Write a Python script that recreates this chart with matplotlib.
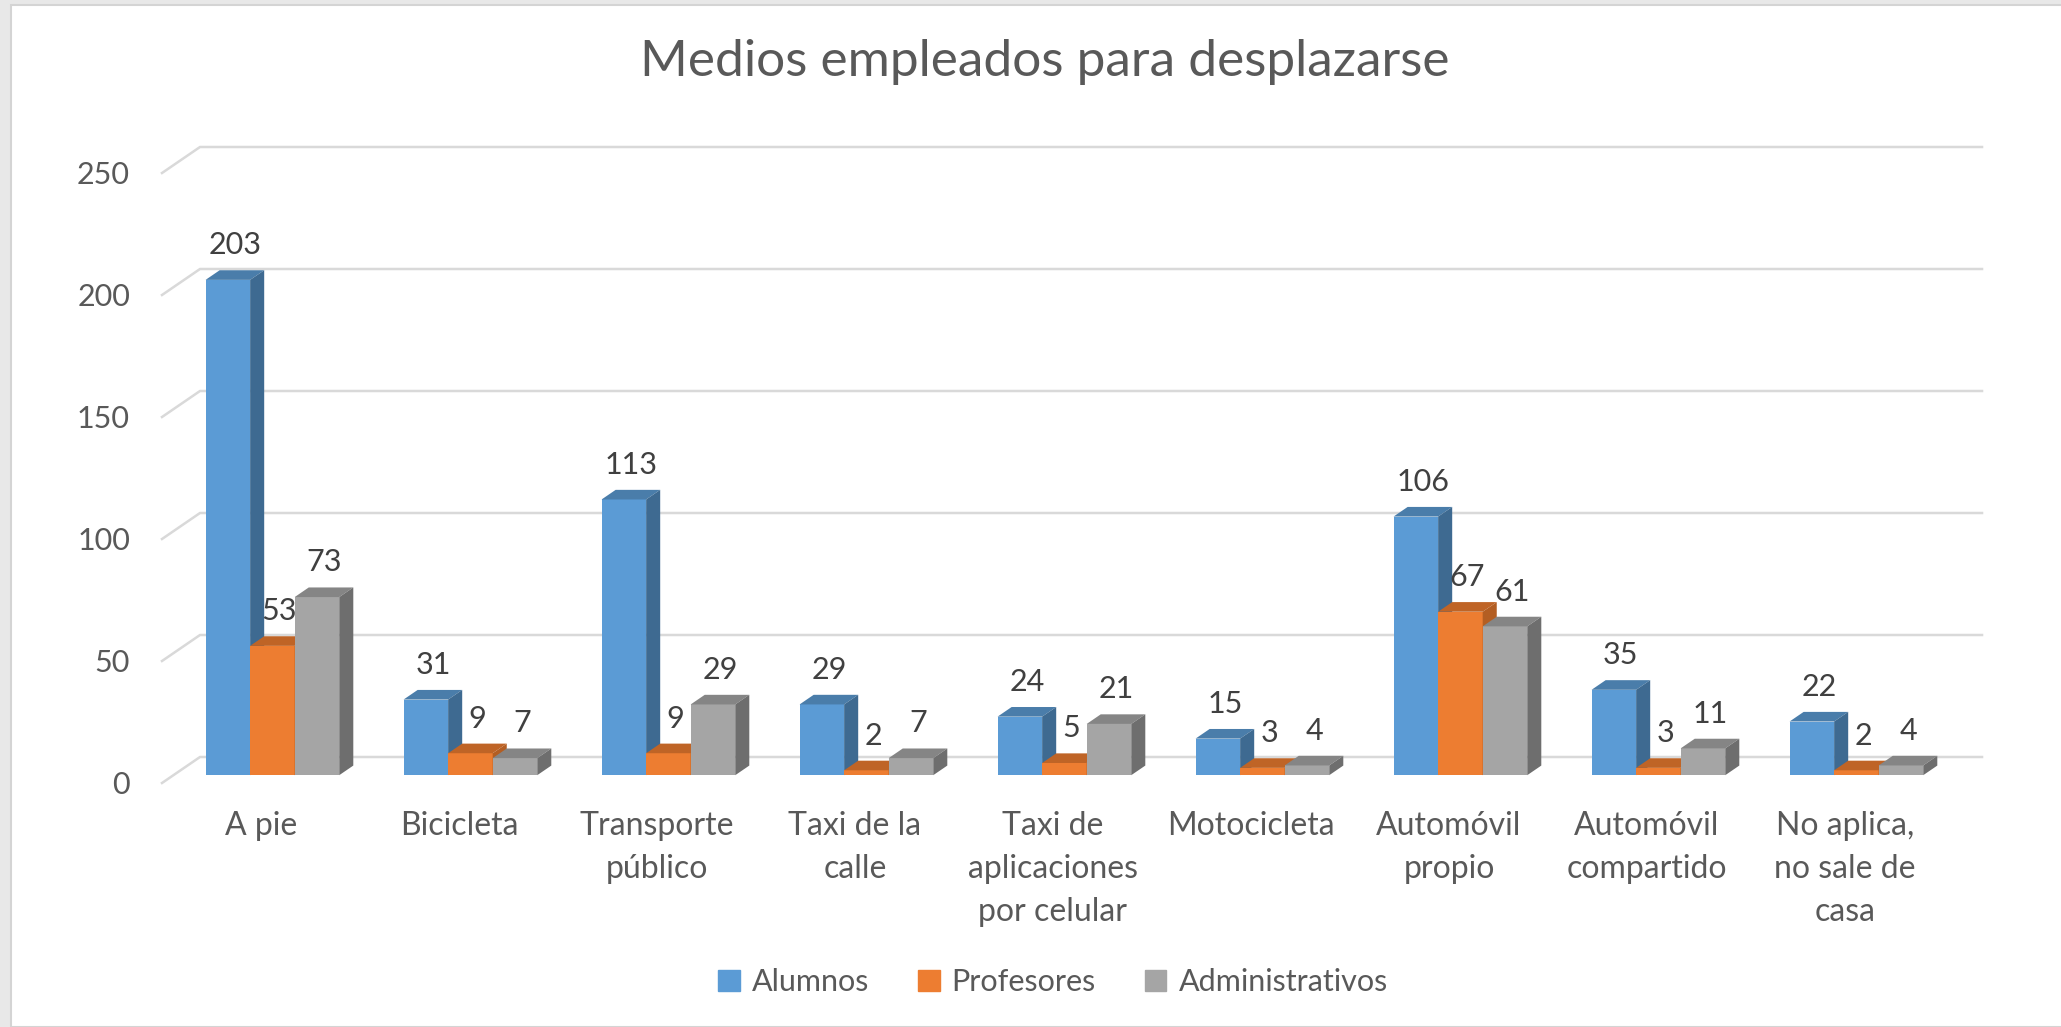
import matplotlib
matplotlib.use("Agg")
from matplotlib import pyplot as plt
from matplotlib.patches import Polygon, Rectangle
import numpy as np

plt.rcParams['font.family'] = ['Lato', 'DejaVu Sans']

categorias = ['A pie', 'Bicicleta', 'Transporte\npúblico', 'Taxi de la\ncalle',
              'Taxi de\naplicaciones\npor celular', 'Motocicleta', 'Automóvil\npropio',
              'Automóvil\ncompartido', 'No aplica,\nno sale de\ncasa']
alumnos = [203, 31, 113, 29, 24, 15, 106, 35, 22]
profesores = [53, 9, 9, 2, 5, 3, 67, 3, 2]
administrativos = [73, 7, 29, 7, 21, 4, 61, 11, 4]
series = ['Alumnos', 'Profesores', 'Administrativos']

colores = ['#5B9BD5', '#ED7D31', '#A5A5A5']
lados = ['#3E6A91', '#B35E23', '#6E6E6E']
techos = ['#4A7DAA', '#BF6426', '#858585']
texto = '#595959'

fig = plt.figure(figsize=(20.61, 10.27), dpi=100)
fig.patch.set_facecolor('#E8E8E8')
fig.patches.append(Rectangle((11 / 2061, 0), 1, 1 - 5 / 1027, transform=fig.transFigure,
                             facecolor='white', edgecolor='#D4D4D4', lw=1.5, zorder=-10))

ax = fig.add_axes([162 / 2061, 1 - 783 / 1027, 1782 / 2061, 610 / 1027])
ax.set_xlim(-0.5, 8.5)
ax.set_ylim(0, 250)
ax.patch.set_alpha(0)
for s in ax.spines.values():
    s.set_visible(False)

# profundidad del piso (en unidades de datos)
Dx, Dy = 0.192, 10.66
fx, fy = 0.3 * Dx, 0.3 * Dy      # cara frontal de la barra
bx, by = 0.37 * Dx, 0.37 * Dy    # fondo de la barra

# cuadricula en la pared del fondo
for v in range(0, 251, 50):
    ax.plot([-0.5, -0.5 + Dx, 8.5 + Dx], [v, v + Dy, v + Dy], color='#D9D9D9',
            lw=1.8, clip_on=False, zorder=0)

x = np.arange(len(categorias))
ancho = 0.225
datos = [alumnos, profesores, administrativos]

for i in range(len(categorias)):
    for j, vals in enumerate(datos):
        v = vals[i]
        x0 = x[i] + (j - 1) * ancho - ancho / 2 + fx
        ax.bar(x0, v, width=ancho, bottom=fy, align='edge', color=colores[j],
               zorder=2 + i * 3 + j, clip_on=False)
        top = v + fy
        ax.add_patch(Polygon([(x0, top), (x0 + ancho, top), (x0 + ancho + bx, top + by),
                              (x0 + bx, top + by)], closed=True, facecolor=techos[j],
                             edgecolor='none', zorder=2 + i * 3 + j, clip_on=False))
        ax.add_patch(Polygon([(x0 + ancho, fy), (x0 + ancho, top), (x0 + ancho + bx, top + by),
                              (x0 + ancho + bx, fy + by)], closed=True, facecolor=lados[j],
                             edgecolor='none', zorder=2 + i * 3 + j, clip_on=False))
        ax.annotate(str(v), (x0 + ancho / 2 + bx / 2, top + by), xytext=(0, 18),
                    textcoords='offset points', ha='center', va='center',
                    fontsize=22, color='#404040', zorder=50, annotation_clip=False)

ax.set_yticks(range(0, 251, 50))
ax.set_xticks(x)
ax.set_xticklabels(categorias, linespacing=1.55)
ax.tick_params(axis='y', length=0, pad=23, labelsize=22, labelcolor=texto)
ax.tick_params(axis='x', length=0, pad=20, labelsize=23, labelcolor=texto)

fig.text(1045 / 2061, 1 - 62 / 1027, 'Medios empleados para desplazarse', ha='center',
         va='center', fontsize=37, color=texto)

handles = [Rectangle((0, 0), 1, 1, color=c) for c in colores]
fig.legend(handles, series, loc='center', bbox_to_anchor=(1053 / 2061, 1 - 982 / 1027),
           ncol=3, frameon=False, fontsize=22, labelcolor=texto, handlelength=0.7,
           handleheight=0.7, handletextpad=0.4, columnspacing=1.6)

plt.savefig('out.png', dpi=100)
